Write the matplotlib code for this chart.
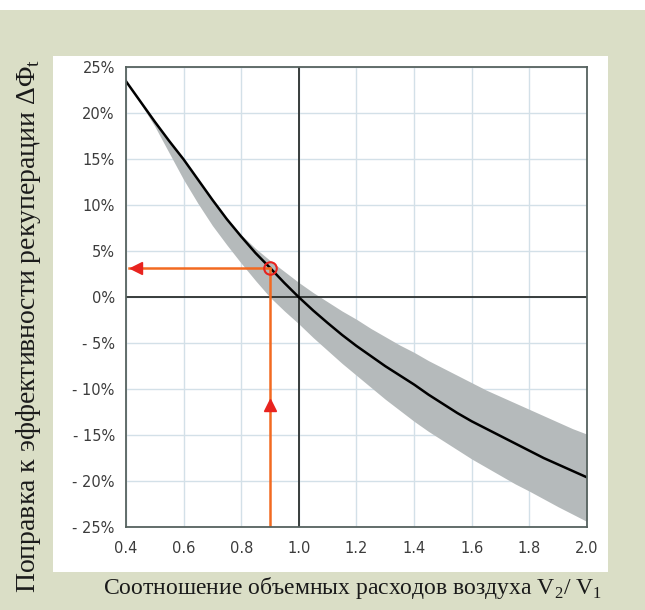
import matplotlib.pyplot as plt
from matplotlib.patches import Rectangle

plt.rcParams['mathtext.fontset'] = 'custom'
plt.rcParams['mathtext.rm'] = 'Liberation Serif'

## data (every 0.05)
ratio = [0.40, 0.45, 0.50, 0.55, 0.60, 0.65, 0.70, 0.75, 0.80, 0.85, 0.90, 0.95,
         1.00, 1.05, 1.10, 1.15, 1.20, 1.25, 1.30, 1.35, 1.40, 1.45, 1.50, 1.55,
         1.60, 1.65, 1.70, 1.75, 1.80, 1.85, 1.90, 1.95, 2.00]
correction = [23.5, 21.3, 19.1, 17.0, 15.0, 12.8, 10.6, 8.5, 6.6, 4.8, 3.2, 1.55,
              0.0, -1.45, -2.8, -4.1, -5.3, -6.4, -7.5, -8.5, -9.5, -10.6, -11.6, -12.6,
              -13.5, -14.3, -15.1, -15.9, -16.7, -17.5, -18.2, -18.9, -19.6]
band_upper = [23.5, 21.3, 19.1, 17.0, 15.0, 12.8, 10.6, 8.6, 6.8, 5.3, 4.0, 2.8,
              1.6, 0.5, -0.5, -1.5, -2.4, -3.4, -4.3, -5.2, -6.0, -6.9, -7.7, -8.5,
              -9.3, -10.1, -10.8, -11.5, -12.2, -12.9, -13.6, -14.3, -14.9]
band_lower = [23.5, 21.1, 18.6, 15.7, 12.8, 10.2, 7.8, 5.7, 3.7, 1.8, 0.0, -1.5,
              -2.9, -4.4, -5.8, -7.2, -8.5, -9.8, -11.1, -12.3, -13.5, -14.6, -15.6, -16.6,
              -17.6, -18.5, -19.4, -20.3, -21.1, -21.95, -22.8, -23.6, -24.4]

example_x = 0.9
example_y = 3.2

x_ticks = [0.4, 0.6, 0.8, 1.0, 1.2, 1.4, 1.6, 1.8, 2.0]
x_ticklabels = ['0.4', '0.6', '0.8', '1.0', '1.2', '1.4', '1.6', '1.8', '2.0']
y_ticks = [25, 20, 15, 10, 5, 0, -5, -10, -15, -20, -25]
y_ticklabels = ['25%', '20%', '15%', '10%', '5%', '0%', '- 5%', '- 10%', '- 15%', '- 20%', '- 25%']

xlabel = 'Соотношение объемных расходов воздуха V$_2$/ V$_1$'
ylabel = 'Поправка к эффективности рекуперации ΔΦ$_\\mathrm{t}$'

# region figure
fig = plt.figure(figsize=(6.45, 6.10), dpi=100, facecolor='#dadec6')
fig.patches.append(Rectangle((0, 0.9836), 1, 0.0164, transform=fig.transFigure,
                             facecolor='white', edgecolor='none', zorder=-2))
fig.patches.append(Rectangle((0.0822, 0.0623), 0.8605, 0.8459, transform=fig.transFigure,
                             facecolor='white', edgecolor='none', zorder=-2))

ax = fig.add_axes([0.1953, 0.1361, 0.7147, 0.7533])
ax.set_facecolor('white')

ax.fill_between(ratio, band_lower, band_upper, color='#b5babb', linewidth=0, zorder=2)
ax.grid(True, color='#d3e0e8', linewidth=1, zorder=1)
ax.axhline(0, color='#2a2f2e', linewidth=1.3, zorder=3)
ax.axvline(1.0, color='#2a2f2e', linewidth=1.3, zorder=3)
ax.plot(ratio, correction, color='black', linewidth=1.8, zorder=4)

## red reading arrows
red = '#e8231f'
orange = '#f26a21'
ax.plot([example_x, example_x], [-25, example_y], color=orange, linewidth=1.8, zorder=5)
ax.plot([0.41, example_x], [example_y, example_y], color=orange, linewidth=1.8, zorder=5)
ax.plot(example_x, -11.7, marker='^', color=red, markersize=8, zorder=6)
ax.plot(0.435, example_y, marker='<', color=red, markersize=8, zorder=6)
ax.plot(example_x, example_y, marker='o', markersize=9, markerfacecolor='none',
        markeredgecolor=red, markeredgewidth=1.5, zorder=6)

ax.set_xlim(0.4, 2.0)
ax.set_ylim(-25, 25)
ax.set_xticks(x_ticks)
ax.set_xticklabels(x_ticklabels)
ax.set_yticks(y_ticks)
ax.set_yticklabels(y_ticklabels)
ax.tick_params(length=0, labelsize=10.5, labelcolor='#3c3c3c')
ax.tick_params(axis='x', pad=10)
ax.tick_params(axis='y', pad=8)
for s in ax.spines.values():
    s.set_color('#56625f')
    s.set_linewidth(1.3)
    s.set_zorder(7)

fig.text(0.546, 0.036, xlabel, ha='center', va='center', fontsize=17,
         family='Liberation Serif', color='#1a1a1a')
fig.text(0.044, 0.466, ylabel, ha='center', va='center', rotation=90, fontsize=20,
         family='Liberation Serif', color='#1a1a1a')

plt.savefig('out.png', dpi=100, facecolor=fig.get_facecolor())
# endregion
